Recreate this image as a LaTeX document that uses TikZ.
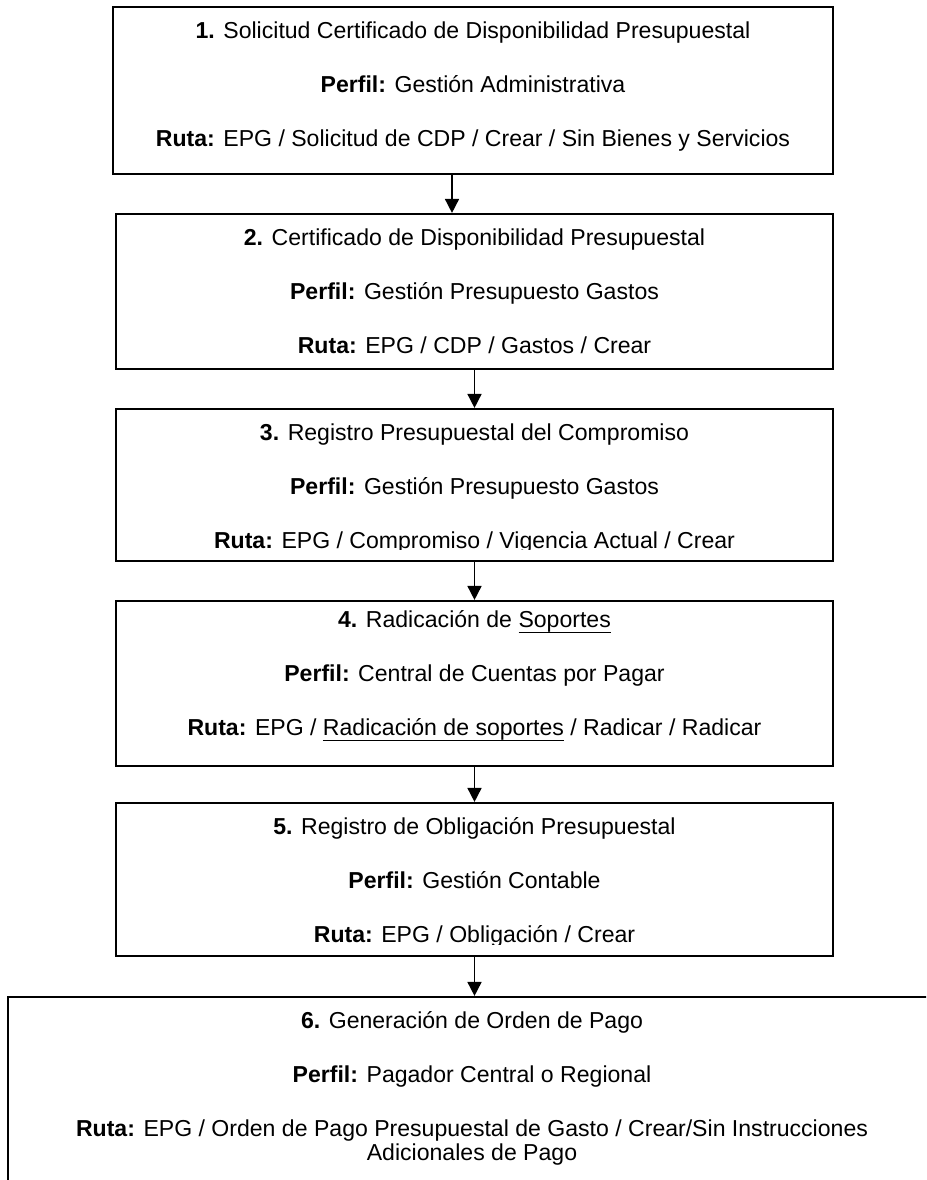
\documentclass[tikz,border=0pt]{standalone}
\usepackage{fontspec}
\setmainfont{Liberation Sans}
\usetikzlibrary{arrows.meta}

\tikzset{
  paso/.style={draw, line width=1.6pt, inner sep=0pt},
  renglon/.style={anchor=base, inner sep=0.75pt, font=\fontsize{17.3}{20}\selectfont},
  flecha/.style={line width=1.2pt, -{Triangle[length=10.5pt,width=10.5pt]}}
}
\newcommand{\subrayar}[1]{\setbox0\hbox{#1}\rlap{\rule[-4.6pt]{\wd0}{1.1pt}}\box0\relax}

\begin{document}
\begin{tikzpicture}[x=0.75pt,y=0.75pt,yscale=-1,xscale=1]
    %set diagram: width 926, height 1180
    \useasboundingbox (0,0) rectangle (926,1180);
    \clip (0,0) rectangle (926,1180);

    %Shape: Rectangle [paso 1]
    \node [paso, minimum width=540pt, minimum height=125.25pt] (s1) at (473,90.5) {};
    %Shape: Rectangle [paso 2]
    \node [paso, minimum width=537.75pt, minimum height=116.25pt] (s2) at (474.5,291.5) {};
    %Shape: Rectangle [paso 3]
    \node [paso, minimum width=537.75pt, minimum height=114pt] (s3) at (474.5,485) {};
    %Shape: Rectangle [paso 4]
    \node [paso, minimum width=537.75pt, minimum height=123.75pt] (s4) at (474.5,683.5) {};
    %Shape: Rectangle [paso 5]
    \node [paso, minimum width=537.75pt, minimum height=114.75pt] (s5) at (474.5,879.5) {};
    %Shape: Rectangle [paso 6]
    \node [paso, minimum width=696pt, minimum height=157.5pt] (s6) at (472,1102) {};

    %Straight Lines
    \coordinate (c1) at (452,0);
    \draw [flecha] (s1.south -| c1) -- (s2.north -| c1);
    \draw [flecha] (s2.south) -- (s3.north);
    \draw [flecha] (s3.south) -- (s4.north);
    \draw [flecha] (s4.south) -- (s5.north);
    \draw [flecha] (s5.south) -- (s5.south |- s6.north);

    % Text Node
    \node [renglon] (t1a) at (473,38.5) {\textbf{1.} Solicitud Certificado de Disponibilidad Presupuestal};
    \node [renglon] (t1b) at (473,92.5) {\textbf{Perfil:} Gestión Administrativa};
    \node [renglon] (t1c) at (473,146.5) {\textbf{Ruta:} EPG / Solicitud de CDP / Crear / Sin Bienes y Servicios};

    % Text Node
    \begin{scope}
    \clip (116,214) rectangle (833,356);
    \node [renglon] (t2a) at (474.5,245.5) {\textbf{2.} Certificado de Disponibilidad Presupuestal};
    \node [renglon] (t2b) at (474.5,299.5) {\textbf{Perfil:} Gestión Presupuesto Gastos};
    \node [renglon] (t2c) at (474.5,353.5) {\textbf{Ruta:} EPG / CDP / Gastos / Crear};
    \end{scope}

    % Text Node
    \begin{scope}
    \clip (116,409) rectangle (833,549);
    \node [renglon] (t3a) at (474.5,440.5) {\textbf{3.} Registro Presupuestal del Compromiso};
    \node [renglon] (t3b) at (474.5,494.5) {\textbf{Perfil:} Gestión Presupuesto Gastos};
    \node [renglon] (t3c) at (474.5,548) {\textbf{Ruta:} EPG / Compromiso / Vigencia Actual / Crear};
    \end{scope}

    % Text Node
    \node [renglon] (t4a) at (474.5,627) {\textbf{4.} Radicación de \subrayar{Soportes}};
    \node [renglon] (t4b) at (474.5,681) {\textbf{Perfil:} Central de Cuentas por Pagar};
    \node [renglon] (t4c) at (474.5,735) {\textbf{Ruta:} EPG / \subrayar{Radicación de soportes} / Radicar / Radicar};

    % Text Node
    \begin{scope}
    \clip (116,803) rectangle (833,944);
    \node [renglon] (t5a) at (474.5,834.5) {\textbf{5.} Registro de Obligación Presupuestal};
    \node [renglon] (t5b) at (474.5,888.5) {\textbf{Perfil:} Gestión Contable};
    \node [renglon] (t5c) at (474.5,942.5) {\textbf{Ruta:} EPG / Obligación / Crear};
    \end{scope}

    % Text Node
    \node [renglon] (t6a) at (472,1028.5) {\textbf{6.} Generación de Orden de Pago};
    \node [renglon] (t6b) at (472,1082.5) {\textbf{Perfil:} Pagador Central o Regional};
    \node [renglon] (t6c) at (472,1136.5) {\textbf{Ruta:} EPG / Orden de Pago Presupuestal de Gasto / Crear/Sin Instrucciones};
    \node [renglon] (t6d) at (472,1160) {Adicionales de Pago};

\end{tikzpicture}
\end{document}
